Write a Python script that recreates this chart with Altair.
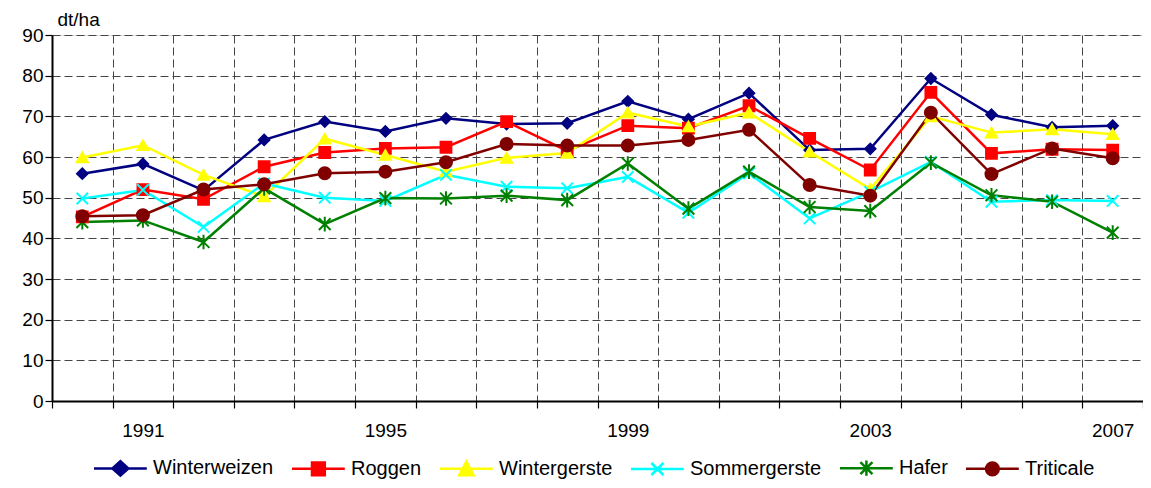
import altair as alt
import pandas as pd

years = list(range(1990, 2008))
series = ["Winterweizen", "Roggen", "Wintergerste", "Sommergerste", "Hafer", "Triticale"]

winterweizen = [55.9, 58.3, 51.8, 64.2, 68.7, 66.3, 69.5, 68.1, 68.3, 73.7, 69.3, 75.7, 61.7, 62.0, 79.3, 70.4, 67.3, 67.7]
roggen       = [45.3, 52.0, 49.6, 57.6, 61.1, 62.1, 62.4, 68.7, 61.5, 67.7, 67.1, 72.6, 64.6, 56.8, 75.9, 60.9, 61.9, 61.7]
wintergerste = [59.9, 62.9, 55.6, 50.3, 64.5, 60.5, 56.4, 59.8, 61.0, 70.9, 67.5, 70.9, 61.3, 52.1, 70.0, 66.0, 66.8, 65.6]
sommergerste = [49.8, 51.9, 42.8, 53.5, 50.0, 49.2, 55.6, 52.7, 52.3, 55.1, 46.3, 56.0, 44.9, 51.4, 58.8, 49.0, 49.4, 49.2]
hafer        = [44.0, 44.4, 39.1, 52.3, 43.5, 49.9, 49.8, 50.5, 49.4, 58.4, 47.3, 56.4, 47.7, 46.7, 58.6, 50.6, 49.0, 41.4]
triticale    = [45.4, 45.7, 52.0, 53.3, 56.0, 56.4, 58.7, 63.2, 62.8, 62.8, 64.2, 66.7, 53.1, 50.5, 70.9, 55.8, 62.1, 59.7]

label_years = [1991, 1995, 1999, 2003, 2007]
y_ticks = list(range(0, 91, 10))

colors = ["#000080", "#FF0000", "#FFFF00", "#00FFFF", "#008000", "#800000"]
fills = ["#000080", "#FF0000", "#FFFF00", "transparent", "transparent", "#800000"]

X_PATH = "M-1,-1L1,1M-1,1L1,-1"
AST_PATH = "M-1,-1L1,1M-1,1L1,-1M0,-1.25L0,1.25"
shapes = ["diamond", "square", "triangle-up", X_PATH, AST_PATH, "circle"]
sizes = [110, 144, 180, 130, 160, 170]

LINE = "M0,0L6.6,0"
leg_shapes = [
    LINE + "M2.3,0L3.3,-0.9L4.3,0L3.3,0.9Z",
    LINE + "M2.5,-0.8L4.1,-0.8L4.1,0.8L2.5,0.8Z",
    LINE + "M3.3,-0.9L4.2,0.8L2.4,0.8Z",
    LINE + "M2.55,-0.75L4.05,0.75M2.55,0.75L4.05,-0.75",
    LINE + "M2.55,-0.75L4.05,0.75M2.55,0.75L4.05,-0.75M3.3,-0.95L3.3,0.95",
    LINE + "M2.5,0A0.8,0.8,0,1,1,4.1,0A0.8,0.8,0,1,1,2.5,0Z",
]

values = [winterweizen, roggen, wintergerste, sommergerste, hafer, triticale]
rows = []
for s, vals in zip(series, values):
    for yr, v in zip(years, vals):
        rows.append({"series": s, "year": yr, "value": v})
df = pd.DataFrame(rows)
leg_df = pd.DataFrame({"leg": series})

FONT = "Liberation Sans"
x_scale = alt.Scale(domain=[1989.5, 2007.5], nice=False, zero=False)
y_enc = alt.Y(
    "value:Q",
    scale=alt.Scale(domain=[0, 90], nice=False),
    axis=alt.Axis(
        values=y_ticks, grid=True, gridDash=[8, 4], gridColor="#454545", gridWidth=1,
        tickSize=7, tickColor="black", tickWidth=1.2, domainColor="black", domainWidth=2,
        labelPadding=2, labelFontSize=19, labelFont=FONT, labelColor="black",
        title="dt/ha", titleAngle=0, titleAlign="left", titleBaseline="middle",
        titleX=5, titleY=-16, titleFontSize=19, titleFont=FONT, titleFontWeight="normal",
        titleColor="black",
    ),
)

lines = alt.Chart(df).mark_line(strokeWidth=2.5).encode(
    x=alt.X(
        "year:Q", scale=x_scale,
        axis=alt.Axis(
            orient="bottom", values=[1989.5 + i for i in range(19)], labels=False,
            grid=True, gridDash=[8, 4], gridColor="#454545", gridWidth=1,
            tickSize=7, tickColor="black", tickWidth=1.2,
            domainColor="black", domainWidth=2, title=None,
        ),
    ),
    y=y_enc,
    color=alt.Color("series:N", scale=alt.Scale(domain=series, range=colors), legend=None),
    detail="series:N",
)

points = alt.Chart(df).mark_point(filled=True, strokeWidth=2, opacity=1).encode(
    x=alt.X(
        "year:Q", scale=x_scale,
        axis=alt.Axis(
            orient="bottom", values=label_years, format="d", grid=False, ticks=False,
            domain=False, labelPadding=20, labelFontSize=19, labelFont=FONT,
            labelColor="black", title=None,
        ),
    ),
    y=alt.Y("value:Q"),
    shape=alt.Shape("series:N", scale=alt.Scale(domain=series, range=shapes), legend=None),
    fill=alt.Fill("series:N", scale=alt.Scale(domain=series, range=fills), legend=None),
    stroke=alt.Stroke("series:N", scale=alt.Scale(domain=series, range=colors), legend=None),
    size=alt.Size("series:N", scale=alt.Scale(domain=series, range=sizes), legend=None),
)

leg_cfg = dict(
    orient="none", legendX=32, legendY=423, direction="horizontal", title=None,
    symbolSize=256, symbolStrokeWidth=2.5, symbolOpacity=1, labelFontSize=20,
    labelFont=FONT, labelColor="black", labelOffset=49, columnPadding=8, padding=0,
)
legend_layer = alt.Chart(leg_df).mark_point(filled=True, opacity=0).encode(
    shape=alt.Shape("leg:N", scale=alt.Scale(domain=series, range=leg_shapes), legend=alt.Legend(**leg_cfg)),
    fill=alt.Fill("leg:N", scale=alt.Scale(domain=series, range=fills), legend=alt.Legend(**leg_cfg)),
    stroke=alt.Stroke("leg:N", scale=alt.Scale(domain=series, range=colors), legend=alt.Legend(**leg_cfg)),
)

chart = (
    alt.layer(lines, points, legend_layer)
    .resolve_axis(x="independent")
    .resolve_scale(shape="independent", fill="independent", stroke="independent")
    .properties(
        width=1091, height=366,
        padding={"left": 44, "top": 27, "right": 0, "bottom": 79},
        autosize=alt.AutoSizeParams(type="none"),
    )
    .configure_view(stroke="black", strokeWidth=2)
    .configure(font=FONT)
)

chart.save("out.html", embed_options={"renderer": "svg", "actions": False})
